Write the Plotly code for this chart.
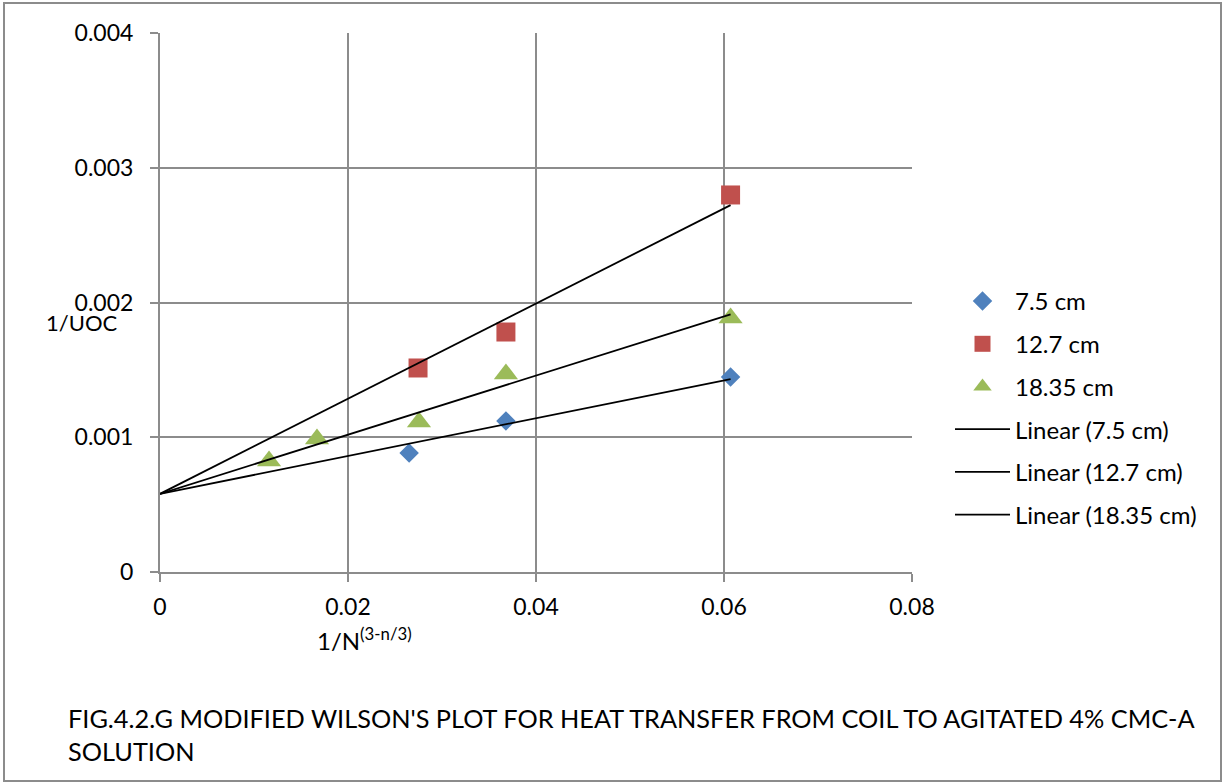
import numpy as np
import plotly.graph_objects as go

# Data
x_75 = [0.0265, 0.0368, 0.0607]
y_75 = [0.000883, 0.001121, 0.001447]
x_127 = [0.02745, 0.0368, 0.0607]
y_127 = [0.001514, 0.001781, 0.002798]
x_1835 = [0.0116, 0.0167, 0.02755, 0.0368, 0.0607]
y_1835 = [0.000824, 0.000987, 0.001113, 0.00147, 0.001885]
intercept = 0.00058  # common trendline intercept

series_names = ["7.5 cm", "12.7 cm", "18.35 cm"]
colors = ["#4F81BD", "#C0504D", "#9BBB59"]
symbols = ["diamond", "square", "triangle-up"]
sizes = [15, 19, 21]

x_ticks = [0, 0.02, 0.04, 0.06, 0.08]
x_tick_labels = ["0", "0.02", "0.04", "0.06", "0.08"]
y_ticks = [0, 0.001, 0.002, 0.003, 0.004]
y_tick_labels = ["0", "0.001", "0.002", "0.003", "0.004"]

FONT = "Lato"
fig = go.Figure()
data = [(x_75, y_75), (x_127, y_127), (x_1835, y_1835)]

for i, (xs, ys) in enumerate(data):
    fig.add_trace(go.Scatter(
        x=xs, y=ys, mode="markers", name=series_names[i],
        legendgroup=f"g{i}",
        marker=dict(symbol=symbols[i], size=sizes[i], color=colors[i]),
    ))

for i, (xs, ys) in enumerate(data):
    xa = np.array(xs)
    ya = np.array(ys) - intercept
    slope = float((xa * ya).sum() / (xa * xa).sum())
    xl = [0, max(xs)]
    yl = [intercept + slope * v for v in xl]
    fig.add_trace(go.Scatter(
        x=xl, y=yl, mode="lines", name=f"Linear ({series_names[i]})",
        legendgroup=f"l{i}",
        line=dict(color="black", width=1.8),
    ))

grid_col = "#8C8C8C"
fig.update_xaxes(
    range=[0, 0.08], tickvals=x_ticks, ticktext=x_tick_labels,
    showgrid=True, gridcolor=grid_col, gridwidth=2,
    showline=True, linecolor=grid_col, linewidth=2,
    ticks="outside", ticklen=8, tickcolor=grid_col, tickwidth=2,
    ticklabelstandoff=5,
    zeroline=False, tickfont=dict(family=FONT, size=23, color="black"),
)
fig.update_yaxes(
    range=[0, 0.004], tickvals=y_ticks, ticktext=y_tick_labels,
    showgrid=True, gridcolor=grid_col, gridwidth=2,
    showline=True, linecolor=grid_col, linewidth=2,
    ticks="outside", ticklen=8, tickcolor=grid_col, tickwidth=2,
    ticklabelstandoff=12,
    zeroline=False, tickfont=dict(family=FONT, size=23, color="black"),
)

L, R, T, B = 160, 313, 33, 212
W, H = 1225, 784
pw, ph = W - L - R, H - T - B

def px_x(p):
    return (p - L) / pw

def px_y(p):
    return (H - B - p) / ph

fig.add_annotation(x=px_x(44), y=px_y(322), xref="paper", yref="paper",
                   text="1/UOC", showarrow=False, xanchor="left", yanchor="middle",
                   font=dict(family=FONT, size=22, color="black"))
fig.add_annotation(x=px_x(315), y=px_y(639), xref="paper", yref="paper",
                   text="1/N<sup>(3-n/3)</sup>", showarrow=False, xanchor="left", yanchor="middle",
                   font=dict(family=FONT, size=24, color="black"))
fig.add_annotation(x=px_x(66), y=px_y(701), xref="paper", yref="paper",
                   text="FIG.4.2.G MODIFIED WILSON'S PLOT FOR HEAT TRANSFER FROM COIL TO AGITATED 4% CMC-A<br>SOLUTION",
                   showarrow=False, xanchor="left", yanchor="top", align="left",
                   font=dict(family=FONT, size=25.3, color="black"))

fig.add_shape(type="rect", xref="paper", yref="paper",
              x0=px_x(4), x1=px_x(1221), y0=px_y(781), y1=px_y(3),
              line=dict(color="#8C8C8C", width=2), fillcolor="rgba(0,0,0,0)")

fig.update_layout(
    width=W, height=H,
    margin=dict(l=L, r=R, t=T, b=B),
    paper_bgcolor="white", plot_bgcolor="white",
    font=dict(family=FONT, size=20, color="black"),
    legend=dict(x=px_x(950), y=px_y(279), xanchor="left", yanchor="top",
                bgcolor="rgba(0,0,0,0)", itemwidth=55, tracegroupgap=8.5,
                font=dict(family=FONT, size=24, color="black")),
)

fig.write_html("out.html")
